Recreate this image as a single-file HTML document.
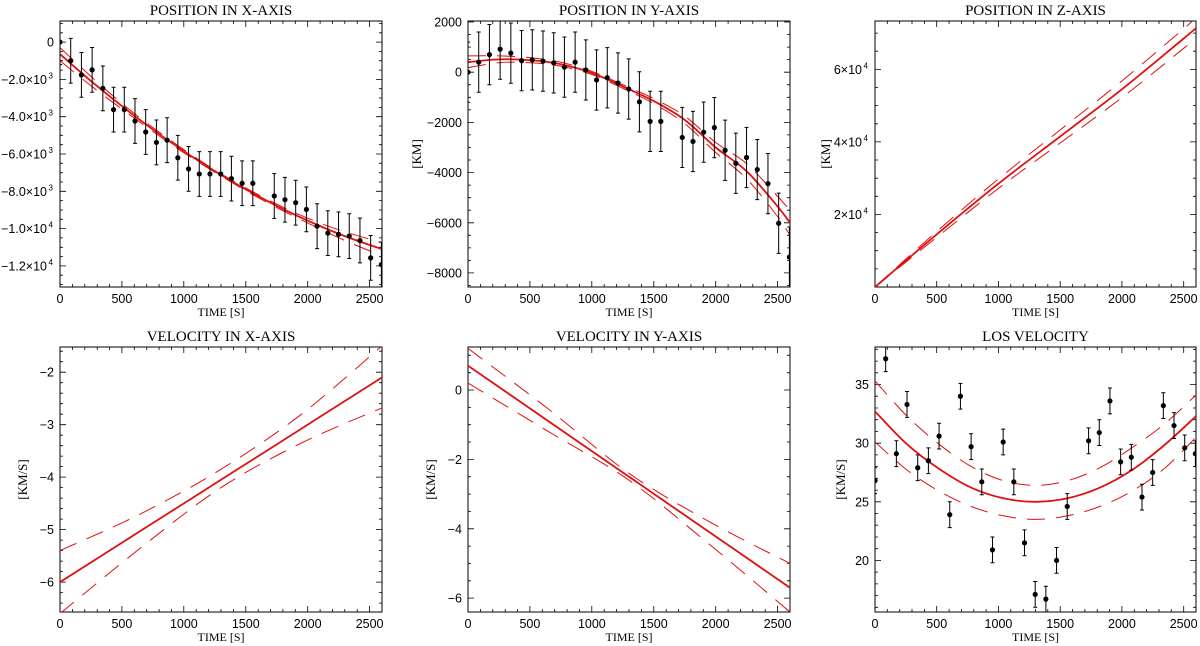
<!DOCTYPE html>
<html><head><meta charset="utf-8"><style>
html,body{margin:0;padding:0;background:#fff}
svg{display:block}
.t{font-family:"Liberation Serif",serif;font-size:15px;fill:#000}
.l{font-family:"Liberation Sans",sans-serif;font-size:12.5px;fill:#000}
.x{font-family:"Liberation Serif",serif;font-size:12px;fill:#000}
</style></head><body>
<svg id="c" width="1200" height="646" viewBox="0 0 1200 646" xmlns="http://www.w3.org/2000/svg"></svg>
<script>
const obsTimes=[0,86.5,173,259.5,346,432.5,519,605.5,692,778.5,865,951.5,1038,1124.5,1211,1297.5,1384,1470.5,1557,1730,1816.5,1903,1989.5,2076,2162.5,2249,2335.5,2422,2508.5,2595];
const fitT11=[0,260,520,780,1040,1300,1560,1820,2080,2340,2600];
const fitT12=[0,250,500,750,1000,1250,1500,1750,2000,2250,2500,2600];
const fitT5=[0,650,1300,1950,2600];
const fitT7=[0,500,1000,1500,2000,2500,2600];
// position X
const posX=[0,-1000,-1760,-1490,-2480,-3620,-3620,-4230,-4820,-5380,-5260,-6200,-6800,-7070,-7070,-7070,-7320,-7570,-7570,-8250,-8450,-8610,-8970,-9870,-10240,-10310,-10400,-10640,-11570,-11930];
const posXErr=1200;
const posXFit=[-650,-2143,-3537,-4831,-6025,-7120,-8115,-9011,-9807,-10503,-11100];
const posXUp=[-300,-1900,-3400,-4730,-5945,-7060,-8035,-8911,-9657,-10253,-10750];
const posXLo=[-1000,-2393,-3687,-4931,-6105,-7180,-8195,-9111,-9957,-10753,-11450];
// position Y
const posY=[0,400,700,920,760,460,490,440,370,200,400,90,-310,-220,-430,-670,-1180,-1960,-1960,-2600,-2760,-2390,-2210,-3110,-3630,-3400,-3880,-4440,-6020,-7370];
const posYErr=1200;
const posYFit=[400,510,480,320,-30,-570,-1150,-1900,-3000,-3950,-5350,-6000];
const posYUp=[650,650,580,400,30,-500,-1050,-1750,-2800,-3650,-4950,-5500];
const posYLo=[180,380,380,240,-90,-640,-1250,-2050,-3200,-4250,-5750,-6500];
// position Z
const posZFit=[0,14500,28500,41500,54500,68500,71400];
const posZUp=[0,15300,29800,43300,56800,71200,74300];
const posZLo=[0,13700,27200,39700,52200,65800,68500];
// velocity X
const velXFit=[-6,-5.025,-4.05,-3.075,-2.1];
const velXUp=[-5.4,-4.7,-3.85,-2.8,-1.5];
const velXLo=[-6.6,-5.35,-4.2,-3.35,-2.68];
// velocity Y
const velYFit=[0.7,-0.9,-2.5,-4.1,-5.7];
const velYUp=[1.2,-0.55,-2.4,-3.8,-5.0];
const velYLo=[0.2,-1.2,-2.6,-4.45,-6.4];
// LOS
const los=[26.8,37.2,29.1,33.3,27.9,28.5,30.6,23.9,34.0,29.7,26.7,20.9,30.1,26.7,21.5,17.1,16.7,20.0,24.6,30.2,30.9,33.6,28.4,28.8,25.4,27.5,33.2,31.5,29.6,29.1];
const losErr=1.1;
const losFit=[32.7,29.9,27.8,26.2,25.3,25.0,25.3,26.2,27.7,29.8,32.3];
const losUp=[35.3,32.3,29.9,28.0,26.8,26.4,26.8,27.9,29.6,31.6,34.1];
const losLo=[30.1,27.7,25.9,24.6,23.8,23.5,23.8,24.6,25.9,27.8,30.5];
// tick labels
const ticksPX=[0,-2000,-4000,-6000,-8000,-10000,-12000];
const ticksPXLab=[["0",""],["\u22122.0\u00d710","3"],["\u22124.0\u00d710","3"],["\u22126.0\u00d710","3"],["\u22128.0\u00d710","3"],["\u22121.0\u00d710","4"],["\u22121.2\u00d710","4"]];
const ticksPY=[2000,0,-2000,-4000,-6000,-8000];
const ticksPYLab=[["2000",""],["0",""],["\u22122000",""],["\u22124000",""],["\u22126000",""],["\u22128000",""]];
const ticksPZ=[20000,40000,60000];
const ticksPZLab=[["2\u00d710","4"],["4\u00d710","4"],["6\u00d710","4"]];
const ticksVX=[-6,-5,-4,-3,-2];
const ticksVXLab=[["\u22126",""],["\u22125",""],["\u22124",""],["\u22123",""],["\u22122",""]];
const ticksVY=[-6,-4,-2,0];
const ticksVYLab=[["\u22126",""],["\u22124",""],["\u22122",""],["0",""]];
const ticksLOS=[20,25,30,35];
const ticksLOSLab=[["20",""],["25",""],["30",""],["35",""]];
const ticksT=[0,500,1000,1500,2000,2500];

const NS="http://www.w3.org/2000/svg";
const svg=document.getElementById('c');
function mk(tag,attrs,parent){const e=document.createElementNS(NS,tag);for(const k in attrs)e.setAttribute(k,attrs[k]);(parent||svg).appendChild(e);return e;}
function smooth(P){
  let d=`M${P[0][0].toFixed(1)} ${P[0][1].toFixed(1)}`;
  for(let i=0;i<P.length-1;i++){
    const p0=P[Math.max(0,i-1)],p1=P[i],p2=P[i+1],p3=P[Math.min(P.length-1,i+2)];
    const c1x=p1[0]+(p2[0]-p0[0])/6,c1y=p1[1]+(p2[1]-p0[1])/6;
    const c2x=p2[0]-(p3[0]-p1[0])/6,c2y=p2[1]-(p3[1]-p1[1])/6;
    d+=`C${c1x.toFixed(1)} ${c1y.toFixed(1)} ${c2x.toFixed(1)} ${c2y.toFixed(1)} ${p2[0].toFixed(1)} ${p2[1].toFixed(1)}`;
  }
  return d;
}

function panel(o){
  const g=mk('g',{});
  
  
  const L=o.x0,R=o.x1,T=o.y0,B=o.y1;
  const sx=t=>L+(t-0)/(2600-0)*(R-L);
  const sy=v=>B-(v-o.ymin)/(o.ymax-o.ymin)*(B-T);
  const clip='cl'+o.name;
  const cp=mk('clipPath',{id:clip},g);mk('rect',{x:L,y:T,width:R-L,height:B-T},cp);
  const tt=mk('text',{x:(L+R)/2,y:T-6,'text-anchor':'middle',class:'t'},g);tt.textContent=o.title;
  
  
  const fr=mk('rect',{x:L,y:T,width:R-L,height:B-T,fill:'none',stroke:'#000','stroke-width':1},g);
  
  
  let d='';
  for(let t=0;t<=2600;t+=100){const X=sx(t).toFixed(1);const len=(t%500===0)?6:3;d+=`M${X} ${B}V${B-len}M${X} ${T}V${T+len}`;}
  for(let v=Math.ceil(o.ymin/o.minor)*o.minor;v<=o.ymax;v+=o.minor){const Y=sy(v).toFixed(1);const maj=o.ticks.some(q=>Math.abs(q-v)<1e-6);const len=maj?6:3;d+=`M${L} ${Y}H${L+len}M${R} ${Y}H${R-len}`;}
  const tk=mk('path',{d:d,stroke:'#000','stroke-width':0.8,fill:'none'},g);
  
  
  ticksT.forEach(t=>{const e=mk('text',{x:sx(t),y:B+16,'text-anchor':'middle',class:'l'},g);e.textContent=String(t);
    
    });
  const xt=mk('text',{x:(L+R)/2,y:B+29,'text-anchor':'middle',class:'x'},g);xt.textContent='TIME [S]';
  
  
  o.ticks.forEach((v,i)=>{const lab=o.labs[i];const e=mk('text',{x:L-(lab[1]?13:6),y:sy(v)+4.5,'text-anchor':'end',class:'l'},g);
    e.textContent=lab[0];
    
    
    if(lab[1]){const s=mk('text',{x:L-7,y:sy(v)-1,'text-anchor':'end',class:'l'},g);s.setAttribute('style','font-size:8px');s.textContent=lab[1];
      
      }
  });
  if(o.ylab){const yl=mk('text',{x:0,y:0,'text-anchor':'middle',class:'x',transform:`translate(${o.ylabX},${(T+B)/2}) rotate(-90)`},g);yl.textContent=o.ylab;
    yl.setAttribute('style','font-size:13px');
    
    }
  const pg=mk('g',{'clip-path':`url(#${clip})`},g);
  function line(ts,vs,dash,w,nm){const P=ts.map((t,i)=>[sx(t),sy(vs[i])]);
    const p=mk('path',{d:smooth(P),fill:'none',stroke:'#e01010','stroke-width':w},pg);if(dash)p.setAttribute('stroke-dasharray',dash);
    
    }
  line(o.ft,o.up,'18,11',1,'upper-bound-line');
  line(o.ft,o.lo,'18,11',1,'lower-bound-line');
  line(o.ft,o.fit,null,1.8,'fit-line');
  if(o.pts){o.pts.forEach((v,i)=>{const X=sx(obsTimes[i]);const y1=sy(v+o.err),y2=sy(v-o.err);
    const eb=mk('path',{d:`M${X} ${y1}V${y2}M${X-2} ${y1}H${X+2}M${X-2} ${y2}H${X+2}`,stroke:'#000','stroke-width':1,fill:'none'},pg);
    
    
    const c=mk('circle',{cx:X,cy:sy(v),r:2.6,fill:'#000'},pg);
    
    });}
}
panel({name:'position-x-panel',title:'POSITION IN X-AXIS',x0:60,x1:382,y0:21,y1:287,ymin:-13130,ymax:1130,minor:500,ticks:ticksPX,labs:ticksPXLab,ft:fitT11,fit:posXFit,up:posXUp,lo:posXLo,pts:posX,err:posXErr});
panel({name:'position-y-panel',title:'POSITION IN Y-AXIS',x0:468,x1:790,y0:21,y1:287,ymin:-8560,ymax:2040,minor:500,ticks:ticksPY,labs:ticksPYLab,ft:fitT12,fit:posYFit,up:posYUp,lo:posYLo,pts:posY,err:posYErr,ylab:'[KM]',ylabX:421});
panel({name:'position-z-panel',title:'POSITION IN Z-AXIS',x0:875,x1:1196,y0:21,y1:287,ymin:0,ymax:73333,minor:5000,ticks:ticksPZ,labs:ticksPZLab,ft:fitT7,fit:posZFit,up:posZUp,lo:posZLo,ylab:'[KM]',ylabX:830});
panel({name:'velocity-x-panel',title:'VELOCITY IN X-AXIS',x0:60,x1:382,y0:347,y1:612,ymin:-6.57,ymax:-1.52,minor:0.2,ticks:ticksVX,labs:ticksVXLab,ft:fitT5,fit:velXFit,up:velXUp,lo:velXLo,ylab:'[KM/S]',ylabX:27});
panel({name:'velocity-y-panel',title:'VELOCITY IN Y-AXIS',x0:468,x1:790,y0:347,y1:612,ymin:-6.4,ymax:1.24,minor:0.5,ticks:ticksVY,labs:ticksVYLab,ft:fitT5,fit:velYFit,up:velYUp,lo:velYLo,ylab:'[KM/S]',ylabX:435});
panel({name:'los-velocity-panel',title:'LOS VELOCITY',x0:875,x1:1196,y0:347,y1:612,ymin:15.6,ymax:38.2,minor:1,ticks:ticksLOS,labs:ticksLOSLab,ft:fitT11,fit:losFit,up:losUp,lo:losLo,pts:los,err:losErr,ylab:'[KM/S]',ylabX:845});
</script>
</body></html>
